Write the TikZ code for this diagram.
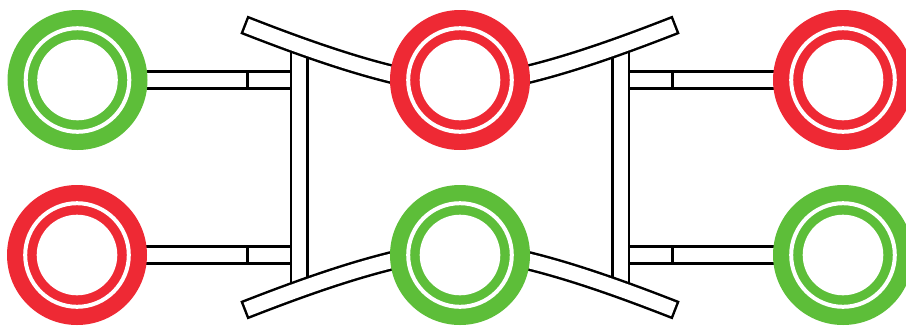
\documentclass[tikz,border=0pt]{standalone}
\definecolor{ringgreen}{RGB}{93,190,57}
\definecolor{ringred}{RGB}{238,41,52}
\tikzset{
  edge/.style={line width=2.5pt, black},
  barbox/.style={edge, fill=white},
  bendout/.style={line width=19.5pt, black, line cap=butt},
  bendin/.style={line width=14.5pt, white, line cap=butt, shorten <=2.5pt},
}
\newcommand\ringmark[3]{%
  \fill[#3] (#1,#2) circle[radius=70pt];
  \draw[white, line width=4pt] (#1,#2) circle[radius=51.8pt];
  \fill[white] (#1,#2) circle[radius=40.3pt];
}
\begin{document}
\begin{tikzpicture}[x=1pt,y=-1pt]
\useasboundingbox (0,0) rectangle (906,325);
\clip (0,0) rectangle (906,325);
% horizontal bars
\foreach \xs/\xsh/\ys/\ysh in {1/0/1/0, -1/920/1/0, 1/0/-1/-335, -1/920/-1/-335}{
  \begin{scope}[xshift=\xsh pt, yshift=\ysh pt, xscale=\xs, yscale=\ys]
    \draw[barbox] (140,71.5) rectangle (291,88.5);
    \draw[edge] (247.7,71.5) -- (247.7,88.5);
  \end{scope}
}
% vertical beams
\foreach \xs/\xsh in {1/0, -1/920}{
  \begin{scope}[xshift=\xsh pt, xscale=\xs]
    \draw[barbox] (291,48) rectangle (307.5,287);
  \end{scope}
}
% curved bars
\foreach \xs/\xsh/\ys/\ysh in {1/0/1/0, -1/920/1/0, 1/0/-1/-335, -1/920/-1/-335}{
  \begin{scope}[xshift=\xsh pt, yshift=\ysh pt, xscale=\xs, yscale=\ys]
    \coordinate (a) at (243.9,24.7);
    \coordinate (b) at (405,77.3);
    \draw[bendout] (a) .. controls (292,43.5) and (351.4,65.5) .. (b);
    \draw[bendin] (a) .. controls (292,43.5) and (351.4,65.5) .. (b);
  \end{scope}
}
% rings
\ringmark{77.5}{80}{ringgreen}
\ringmark{77}{255}{ringred}
\ringmark{460}{80}{ringred}
\ringmark{460}{255}{ringgreen}
\ringmark{843}{80}{ringred}
\ringmark{843}{255}{ringgreen}
\end{tikzpicture}
\end{document}
